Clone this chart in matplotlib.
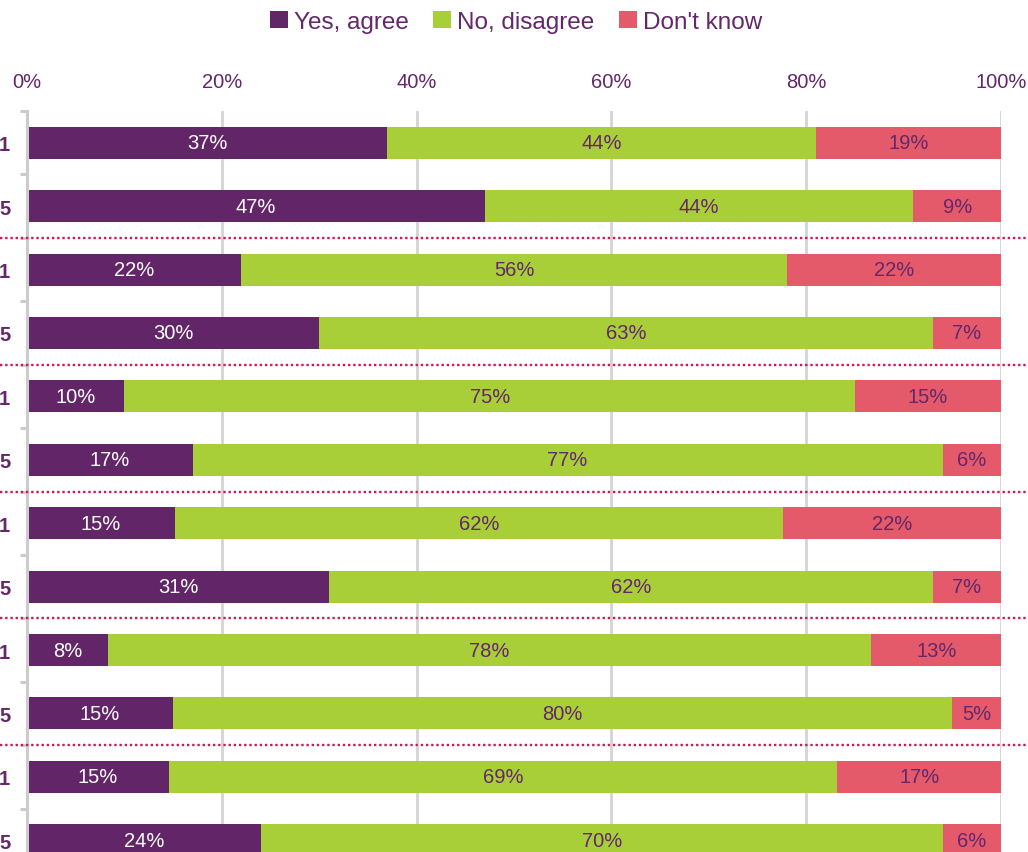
import matplotlib
matplotlib.use("Agg")
import matplotlib.pyplot as plt
import matplotlib.transforms as mtransforms
from matplotlib.patches import Patch

plt.rcParams['font.family'] = ['Liberation Sans', 'DejaVu Sans']

# Visible (cropped) category labels
categories = ["1", "5", "1", "5", "1", "5", "1", "5", "1", "5", "1", "5"]
series_names = ["Yes, agree", "No, disagree", "Don't know"]
yes_agree = [37, 47, 22, 30, 10, 17, 15.2, 31, 8.3, 15, 14.6, 24]
no_disagree = [44, 44, 56, 63, 75, 77, 62.4, 62, 78.4, 80, 68.6, 70]
dont_know = [19, 9, 22, 7, 15, 6, 22.4, 7, 13.3, 5, 16.8, 6]
x_ticks = [0, 20, 40, 60, 80, 100]
x_tick_labels = ["0%", "20%", "40%", "60%", "80%", "100%"]
separators = [1.5, 3.5, 5.5, 7.5, 9.5]

PURPLE = "#622567"
GREEN = "#A9CF38"
RED = "#E45A6B"
TEXT = "#63276A"
GRID = "#D4D4D4"
DOT = "#D3155A"

fig = plt.figure(figsize=(10.28, 8.53), dpi=100)
ax = fig.add_axes([27/1028, (853-873)/853, 974/1028, 761/853])

ypos = list(range(len(categories)))
series = [yes_agree, no_disagree, dont_know]
colors = [PURPLE, GREEN, RED]
label_colors = ["white", TEXT, TEXT]
left = [0]*len(categories)
for vals, col, lc in zip(series, colors, label_colors):
    ax.barh(ypos, vals, left=left, height=0.505, color=col, zorder=3)
    for y, v, l in zip(ypos, vals, left):
        ax.text(l + v/2, y, f"{round(v):d}%", ha="center", va="center",
                color=lc, fontsize=14.5, zorder=4)
    left = [a + b for a, b in zip(left, vals)]

ax.set_xlim(0, 100)
ax.set_ylim(len(categories) - 0.5, -0.5)

ax.xaxis.tick_top()
ax.set_xticks(x_ticks)
ax.set_xticklabels(x_tick_labels, color=TEXT, fontsize=14.5)
ax.tick_params(axis="x", length=0, pad=14.5)
ax.grid(axis="x", color=GRID, linewidth=2.0, zorder=0)

ax.set_yticks(ypos)
ax.set_yticklabels(categories, color=TEXT, fontsize=14.5, fontweight="bold")
ax.tick_params(axis="y", which="major", length=0, pad=12)
ax.set_yticks([i - 0.5 for i in range(len(categories) + 1)], minor=True)
ax.tick_params(axis="y", which="minor", length=5, width=2.2, color="#CCCCCC", direction="out")

for s in ["top", "right", "bottom"]:
    ax.spines[s].set_visible(False)
ax.spines["left"].set_color("#CCCCCC")
ax.spines["left"].set_linewidth(2.2)
ax.spines["left"].set_zorder(5)

trans = mtransforms.blended_transform_factory(fig.transFigure, ax.transData)
for y in separators:
    ax.plot([0, 1], [y, y], transform=trans, color=DOT, linewidth=1.7,
            linestyle=(0, (1, 1.2)), clip_on=False, zorder=6)

handles = [Patch(facecolor=c, edgecolor="none") for c in colors]
fig.legend(handles, series_names, loc="upper center", bbox_to_anchor=(0.502, 1.012),
           ncol=3, frameon=False, fontsize=17.5, labelcolor=TEXT,
           handlelength=0.75, handleheight=0.75, handletextpad=0.25, columnspacing=1.0)

fig.savefig("out.png", dpi=100)
